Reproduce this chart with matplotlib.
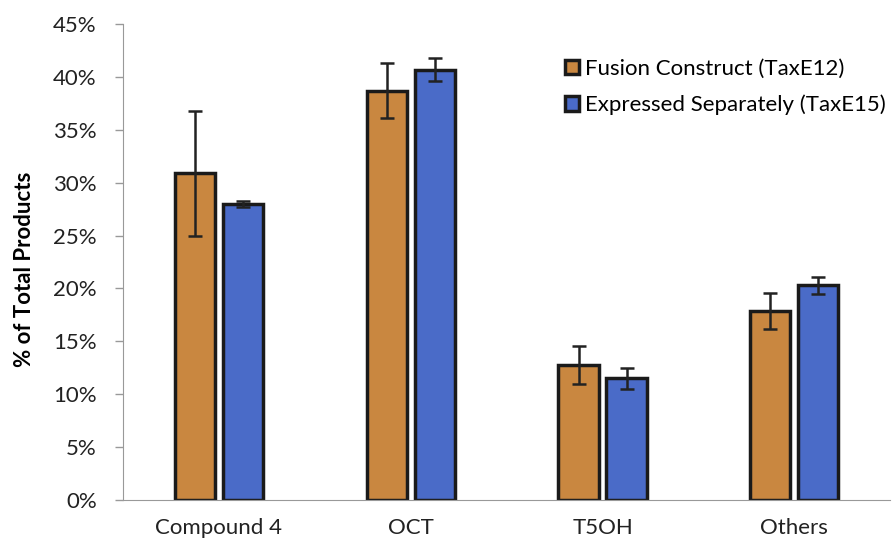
import numpy as np
import matplotlib.pyplot as plt
from matplotlib.ticker import PercentFormatter

categories = ["Compound 4", "OCT", "T5OH", "Others"]
fusion = [30.9, 38.7, 12.8, 17.9]
fusion_err = [5.9, 2.6, 1.8, 1.7]
separate = [28.0, 40.7, 11.5, 20.3]
separate_err = [0.3, 1.1, 1.0, 0.8]

plt.rcParams["font.family"] = ["Lato", "DejaVu Sans"]

fig = plt.figure(figsize=(8.92, 5.39), dpi=100)
ax = fig.add_axes([0.138, 0.0724, 0.86, 0.883])

x = np.arange(len(categories))
w = 0.21
err_kw = dict(ecolor="#222222", elinewidth=1.8, capsize=5, capthick=1.8)
ax.bar(x - 0.125, fusion, w, yerr=fusion_err, color="#C98740", edgecolor="#1a1a1a",
       linewidth=2.5, error_kw=err_kw, label="Fusion Construct (TaxE12)")
ax.bar(x + 0.125, separate, w, yerr=separate_err, color="#4A6BC8", edgecolor="#1a1a1a",
       linewidth=2.5, error_kw=err_kw, label="Expressed Separately (TaxE15)")

ax.set_xlim(-0.5, 3.5)
ax.set_ylim(0, 45)
ax.set_yticks(np.arange(0, 46, 5))
ax.yaxis.set_major_formatter(PercentFormatter(decimals=0))
ax.set_xticks(x)
ax.set_xticklabels(categories)
ax.tick_params(axis="x", length=0, pad=13, labelsize=16, colors="#222222")
ax.tick_params(axis="y", length=6, width=1, color="#999999", labelsize=16,
               labelcolor="#222222", pad=13)
for s in ["top", "right"]:
    ax.spines[s].set_visible(False)
ax.spines["left"].set_color("#999999")
ax.spines["bottom"].set_color("#999999")
ax.set_ylabel("% of Total Products", fontsize=16, fontweight="bold")
ax.yaxis.set_label_coords(-0.115, 0.485)

ax.legend(loc="upper right", bbox_to_anchor=(1.012, 0.955), frameon=False, fontsize=16,
          handlelength=0.6, handleheight=0.6, handletextpad=0.3, labelspacing=0.72,
          borderaxespad=0.2)

fig.savefig("out.png", dpi=100)
